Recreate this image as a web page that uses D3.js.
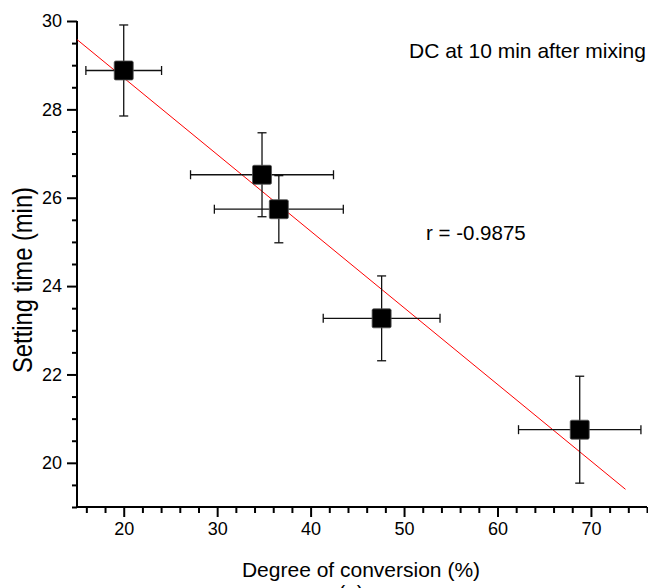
<!DOCTYPE html>
<html>
<head>
<meta charset="utf-8">
<script src="https://cdn.jsdelivr.net/npm/d3@7"></script>
<style>
  body { margin: 0; background: #fff; }
  svg { display: block; font-family: "Liberation Sans", Arial, sans-serif; }
</style>
</head>
<body>
<script>
// values
var conversion = [20.0, 34.8, 36.6, 47.6, 68.8];
var conversionErr = [4.05, 7.65, 6.9, 6.25, 6.55];
var settingTime = [28.88, 26.52, 25.74, 23.27, 20.75];
var settingErr = [1.03, 0.95, 0.76, 0.96, 1.21];
var fitX = [15, 73.7];
var fitY = [29.58, 19.4];
var xTicks = [20, 30, 40, 50, 60, 70];
var yTicks = [20, 22, 24, 26, 28, 30];

function drawChart() {
    var width = 648, height = 588;
    var leftEdge = 77, rightEdge = 647, topEdge = 21, bottomEdge = 507;

    var svg = d3.select("body").append("svg")
        .attr("width", width)
        .attr("height", height);

    var x = d3.scaleLinear().domain([15, 76]).range([leftEdge, rightEdge]);
    var y = d3.scaleLinear().domain([19, 30]).range([bottomEdge, topEdge]);

    // minor ticks
    var xMinor = d3.range(16, 76.01, 2).filter(function(d) { return xTicks.indexOf(d) < 0; });
    var yMinor = d3.range(19, 30.01, 0.5).filter(function(d) { return yTicks.indexOf(d) < 0; });

    var xAxisMinor = d3.axisBottom(x).tickValues(xMinor).tickSize(6).tickFormat("");
    var xAxis = d3.axisBottom(x).tickValues(xTicks).tickSize(10).tickPadding(5);
    var yAxisMinor = d3.axisLeft(y).tickValues(yMinor).tickSize(5).tickFormat("");
    var yAxis = d3.axisLeft(y).tickValues(yTicks).tickSize(10).tickPadding(5);

    function styleAxis(g) {
        g.select(".domain").remove();
        g.selectAll("line").attr("stroke", "#000").attr("stroke-width", 2);
        g.selectAll("text").attr("fill", "#000").style("font-size", "18px")
            .style("font-family", "'Liberation Sans', Arial, sans-serif");
    }

    svg.append("g").attr("transform", "translate(0," + bottomEdge + ")").call(xAxisMinor).call(styleAxis);
    svg.append("g").attr("transform", "translate(0," + bottomEdge + ")").call(xAxis).call(styleAxis);
    svg.append("g").attr("transform", "translate(" + leftEdge + ",0)").call(yAxisMinor).call(styleAxis);
    svg.append("g").attr("transform", "translate(" + leftEdge + ",0)").call(yAxis).call(styleAxis);

    // axis lines
    svg.append("line").attr("x1", leftEdge).attr("x2", leftEdge).attr("y1", topEdge).attr("y2", bottomEdge + 1)
        .attr("stroke", "#000").attr("stroke-width", 2);
    svg.append("line").attr("x1", leftEdge - 1).attr("x2", rightEdge).attr("y1", bottomEdge).attr("y2", bottomEdge)
        .attr("stroke", "#000").attr("stroke-width", 2);

    // fit line
    svg.append("line")
        .attr("x1", x(fitX[0])).attr("y1", y(fitY[0]))
        .attr("x2", x(fitX[1])).attr("y2", y(fitY[1]))
        .attr("stroke", "#ff0000").attr("stroke-width", 1);

    var pts = conversion.map(function(d, i) {
        return { x: d, xe: conversionErr[i], y: settingTime[i], ye: settingErr[i] };
    });

    var cap = 4.5;
    var bars = svg.append("g").attr("stroke", "#111").attr("stroke-width", 1.3);
    pts.forEach(function(p) {
        bars.append("line").attr("x1", x(p.x - p.xe)).attr("x2", x(p.x + p.xe))
            .attr("y1", y(p.y)).attr("y2", y(p.y));
        bars.append("line").attr("x1", x(p.x - p.xe)).attr("x2", x(p.x - p.xe))
            .attr("y1", y(p.y) - cap).attr("y2", y(p.y) + cap);
        bars.append("line").attr("x1", x(p.x + p.xe)).attr("x2", x(p.x + p.xe))
            .attr("y1", y(p.y) - cap).attr("y2", y(p.y) + cap);
        bars.append("line").attr("x1", x(p.x)).attr("x2", x(p.x))
            .attr("y1", y(p.y - p.ye)).attr("y2", y(p.y + p.ye));
        bars.append("line").attr("x1", x(p.x) - cap).attr("x2", x(p.x) + cap)
            .attr("y1", y(p.y - p.ye)).attr("y2", y(p.y - p.ye));
        bars.append("line").attr("x1", x(p.x) - cap).attr("x2", x(p.x) + cap)
            .attr("y1", y(p.y + p.ye)).attr("y2", y(p.y + p.ye));
    });

    var sq = 19;
    svg.selectAll(".pt")
        .data(pts)
        .enter().append("rect")
        .attr("class", "pt")
        .attr("x", function(d) { return x(d.x) - sq / 2; })
        .attr("y", function(d) { return y(d.y) - sq / 2; })
        .attr("width", sq)
        .attr("height", sq)
        .attr("rx", 1.5)
        .attr("fill", "#000")
        .attr("stroke", "#555")
        .attr("stroke-width", 0.8);

    // labels
    svg.append("text")
        .attr("x", 361).attr("y", 577)
        .attr("text-anchor", "middle")
        .style("font-size", "21px")
        .text("Degree of conversion (%)");

    // panel letter, cut off by the bottom edge as in the source figure
    svg.append("text")
        .attr("x", 351).attr("y", 600)
        .attr("text-anchor", "middle")
        .style("font-size", "21px")
        .text("(a)");

    svg.append("text")
        .attr("transform", "translate(32,280) rotate(-90)")
        .attr("text-anchor", "middle")
        .attr("textLength", 186)
        .attr("lengthAdjust", "spacingAndGlyphs")
        .style("font-size", "27px")
        .text("Setting time (min)");

    svg.append("text")
        .attr("x", 409).attr("y", 58)
        .style("font-size", "21px")
        .text("DC at 10 min after mixing");

    svg.append("text")
        .attr("x", 426).attr("y", 240)
        .style("font-size", "20.5px")
        .text("r = -0.9875");
}

drawChart();
</script>
</body>
</html>
